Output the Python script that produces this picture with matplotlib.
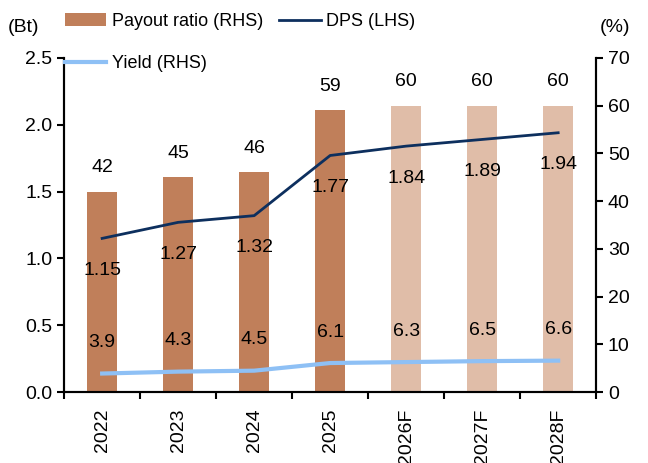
import matplotlib.pyplot as plt
import numpy as np

plt.rcParams['font.family'] = ['Liberation Sans', 'DejaVu Sans']

years = ["2022", "2023", "2024", "2025", "2026F", "2027F", "2028F"]
payout = [42, 45, 46, 59, 60, 60, 60]
dps = [1.15, 1.27, 1.32, 1.77, 1.84, 1.89, 1.94]
yld = [3.9, 4.3, 4.5, 6.1, 6.3, 6.5, 6.6]
n_actual = 4

x = np.arange(len(years))
bar_cols = ["#C07F5A"] * n_actual + ["#E0BDA8"] * (len(years) - n_actual)

fig = plt.figure(figsize=(6.48, 4.63), dpi=100)
ax = fig.add_axes([0.099, 0.153, 0.821, 0.722])
ax2 = ax.twinx()
ax.set_zorder(ax2.get_zorder() + 1)
ax.patch.set_visible(False)

b = ax2.bar(x, payout, width=0.4, color=bar_cols, label="Payout ratio (RHS)")
ly, = ax2.plot(x, yld, color="#8EC0F5", lw=3, label="Yield (RHS)")
ld, = ax.plot(x, dps, color="#0D2F5E", lw=2, label="DPS (LHS)")

fs = 14
for i in range(len(x)):
    ax2.annotate(str(payout[i]), (x[i], payout[i]), xytext=(0, 11), textcoords="offset points",
                 ha="center", va="bottom", fontsize=fs)
    ax2.annotate(f"{yld[i]:.1f}", (x[i], yld[i]), xytext=(0, 16), textcoords="offset points",
                 ha="center", va="bottom", fontsize=fs)
    ax.annotate(f"{dps[i]:.2f}", (x[i], dps[i]), xytext=(0, -17), textcoords="offset points",
                ha="center", va="top", fontsize=fs)

ax.set_ylim(0, 2.5)
ax.set_yticks(np.arange(0, 2.51, 0.5))
ax.set_yticklabels([f"{v:.1f}" for v in np.arange(0, 2.51, 0.5)])
ax2.set_ylim(0, 70)
ax2.set_yticks(range(0, 71, 10))
ax.set_xlim(-0.5, len(years) - 0.5)
ax.set_xticks(x)
ax.set_xticklabels(years, rotation=90)
ax.set_xticks(np.arange(-0.5, len(years), 1), minor=True)
ax.tick_params(axis="x", which="major", length=0, pad=12)
ax.tick_params(axis="x", which="minor", length=5, width=1.5)
ax.tick_params(axis="y", length=5, width=1.5)
ax2.tick_params(axis="y", length=5, width=1.5)
for a in (ax, ax2):
    a.tick_params(labelsize=fs)
    a.spines["top"].set_visible(False)
    for s in ("left", "right", "bottom"):
        a.spines[s].set_linewidth(1.5)

fig.text(0.012, 0.94, "(Bt)", fontsize=fs, va="center")
fig.text(0.925, 0.94, "(%)", fontsize=fs, va="center")

fig.legend([b, ly, ld], ["Payout ratio (RHS)", "Yield (RHS)", "DPS (LHS)"], ncol=2,
           loc="upper left", bbox_to_anchor=(0.1, 0.972), frameon=False, fontsize=13,
           handlelength=2.3, columnspacing=0.9, handletextpad=0.3, labelspacing=1.4,
           borderpad=0, borderaxespad=0)

fig.savefig("out.png", dpi=100)
